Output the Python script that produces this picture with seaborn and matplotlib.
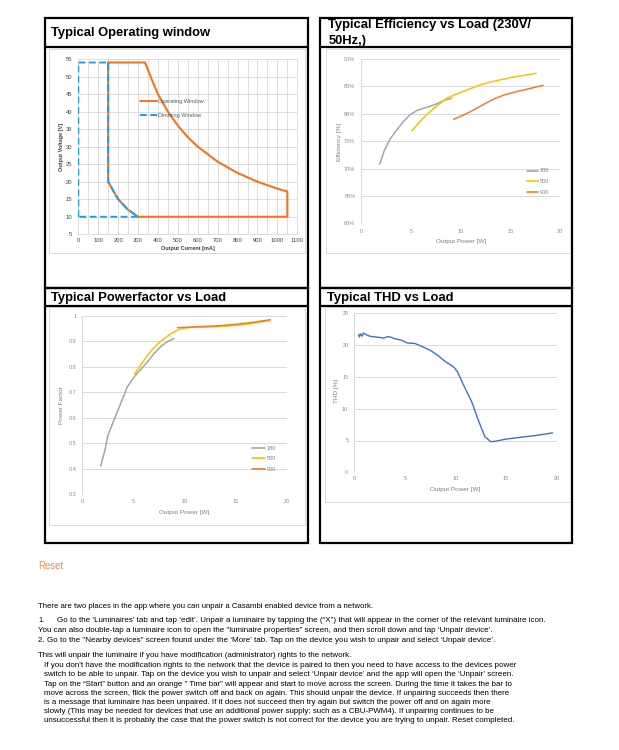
import numpy as np
import pandas as pd
import matplotlib
matplotlib.use("Agg")
import matplotlib.pyplot as plt
from matplotlib.lines import Line2D
from matplotlib.patches import Rectangle
import seaborn as sns

# ---------------- data ----------------
op_current = [150, 335, 370, 400, 450, 500, 550, 600, 700, 800, 900, 1000, 1050, 1050, 300, 250, 200, 150, 150]
op_voltage = [54, 54, 49, 45, 40, 36, 32.7, 30, 25.7, 22.5, 20, 18, 17.2, 10, 10, 12, 15, 20, 54]
dim_current = [0, 0, 150, 150, 200, 250, 300, 0]
dim_voltage = [10, 54, 54, 20, 15, 12, 10, 10]
op_xticks = list(range(0, 1101, 100))
op_yticks = list(range(5, 56, 5))

eff_180_p = [1.85, 2.3, 2.9, 3.5, 4.2, 4.9, 5.6, 6.6, 7.3, 7.8, 8.4, 9.1]
eff_180 = [70.8, 73.2, 75.4, 76.9, 78.5, 79.8, 80.6, 81.2, 81.6, 82.0, 82.5, 82.8]
eff_500_p = [5.1, 5.9, 6.6, 7.3, 8.0, 8.6, 9.3, 10.0, 11.0, 12.0, 13.0, 14.0, 15.0, 16.0, 17.6]
eff_500 = [76.9, 78.6, 79.9, 81.0, 82.0, 82.8, 83.4, 83.9, 84.6, 85.3, 85.8, 86.2, 86.6, 86.9, 87.4]
eff_900_p = [9.3, 10.2, 11.0, 12.0, 12.8, 13.6, 14.5, 15.5, 16.5, 17.4, 18.3]
eff_900 = [79.0, 79.7, 80.4, 81.4, 82.2, 82.9, 83.5, 84.0, 84.4, 84.8, 85.2]
eff_yticks = [60, 65, 70, 75, 80, 85, 90]

pf_180_p = [1.8, 2.2, 2.5, 2.9, 3.4, 3.9, 4.4, 4.9, 5.5, 6.2, 7.0, 7.7, 8.4, 9.0]
pf_180 = [0.41, 0.47, 0.53, 0.57, 0.62, 0.67, 0.72, 0.75, 0.78, 0.81, 0.85, 0.88, 0.90, 0.91]
pf_500_p = [5.1, 5.6, 6.2, 6.8, 7.4, 8.0, 8.7, 9.4, 10.1, 11.0, 12.0, 13.0, 14.0, 15.0, 16.0, 17.2, 18.4]
pf_500 = [0.77, 0.80, 0.835, 0.865, 0.89, 0.91, 0.93, 0.945, 0.952, 0.955, 0.955, 0.957, 0.959, 0.962, 0.966, 0.973, 0.982]
pf_900_p = [9.3, 10.5, 12.0, 13.5, 15.0, 16.5, 18.4]
pf_900 = [0.953, 0.955, 0.958, 0.961, 0.966, 0.973, 0.984]
pf_yticks = [0.3, 0.4, 0.5, 0.6, 0.7, 0.8, 0.9, 1.0]
pf_ytick_labels = ["0.3", "0.4", "0.5", "0.6", "0.7", "0.8", "0.9", "1"]

thd_p = [0.4, 0.5, 0.6, 0.75, 0.9, 1.0, 1.5, 2.0, 2.5, 2.9, 3.3, 3.7, 4.0, 4.6, 5.2, 6.0, 6.8, 7.6,
         8.4, 9.0, 9.8, 10.2, 10.8, 11.6, 12.3, 12.9, 13.5, 14.0, 14.9, 16.4, 18.0, 19.6]
thd = [21.6, 21.3, 21.8, 21.4, 21.9, 21.8, 21.4, 21.3, 21.2, 21.1, 21.35, 21.2, 21.0, 20.8, 20.35, 20.25, 19.7, 19.1,
       18.2, 17.4, 16.6, 15.8, 13.7, 11.1, 8.0, 5.6, 4.8, 4.9, 5.2, 5.5, 5.8, 6.2]
thd_yticks = [0, 5, 10, 15, 20, 25]
power_xticks = [0, 5, 10, 15, 20]

series_labels = ["180", "500", "900"]
series_colors = ["#A5A5A5", "#FFC000", "#ED7D31"]

titles = ["Typical Operating window", "Typical Efficiency vs Load (230V/", "50Hz,)",
          "Typical Powerfactor vs Load", "Typical THD vs Load"]

para_lines = [
    "There are two places in the app where you can unpair a Casambi enabled device from a network.",
    "Go to the \u2018Luminaires\u2019 tab and tap \u2018edit\u2019. Unpair a luminaire by tapping the (\u201cX\u201d) that will appear in the corner of the relevant luminaire icon.",
    "You can also double-tap a luminaire icon to open the \"luminaire properties\" screen, and then scroll down and tap \u2018Unpair device\u2019.",
    "2. Go to the \"Nearby devices\" screen found under the \u2018More\u2019 tab. Tap on the device you wish to unpair and select \u2018Unpair device\u2019.",
    "This will unpair the luminaire if you have modification (administrator) rights to the network.",
    "If you don't have the modification rights to the network that the device is paired to then you need to have access to the devices power",
    "switch to be able to unpair. Tap on the device you wish to unpair and select \u2018Unpair device\u2019 and the app will open the \u2018Unpair\u2019 screen.",
    "Tap on the \u201cStart\u201d button and an orange \" Time bar\" will appear and start to move across the screen. During the time it takes the bar to",
    "move across the screen, flick the power switch off and back on again. This should unpair the device. If unpairing succeeds then there",
    "is a message that luminaire has been unpaired. If it does not succeed then try again but switch the power off and on again more",
    "slowly (This may be needed for devices that use an additional power supply; such as a CBU-PWM4). If unpairing continues to be",
    "unsuccessful then it is probably the case that the power switch is not correct for the device you are trying to unpair. Reset completed.",
]

# ---------------- figure ----------------
W, H = 619, 750
sns.set_theme(style="white")
plt.rcParams['font.family'] = ['Liberation Sans', 'DejaVu Sans']

fig = plt.figure(figsize=(W / 100, H / 100), dpi=100)
fig.patch.set_facecolor("white")


def rect_px(x0, y0, x1, y1):
    return [x0 / W, 1 - y1 / H, (x1 - x0) / W, (y1 - y0) / H]


bg = fig.add_axes([0, 0, 1, 1])
bg.set_xlim(0, W)
bg.set_ylim(H, 0)
bg.axis("off")

GRID = "#D9D9D9"
# outer black boxes + title separators
for x0, x1 in [(45, 308), (320, 572)]:
    for y0, y1, ty in [(17.5, 288, 47), (288, 543, 305.7)]:
        bg.add_patch(Rectangle((x0, y0), x1 - x0, y1 - y0, fill=False, ec="black", lw=1.6))
        bg.plot([x0, x1], [ty, ty], color="black", lw=1.6)
# light chart frames
for fx0, fy0, fx1, fy1 in [(49, 49, 305, 253), (326, 49, 570, 253), (49, 307, 305, 525), (325, 307, 570, 502)]:
    bg.add_patch(Rectangle((fx0, fy0), fx1 - fx0, fy1 - fy0, fill=False, ec=GRID, lw=0.7))


def style_axes(ax, xlim, ylim, xticks, yticks, ylabels, tick_color, fs, xpad, ypad, left_spine):
    ax.set_facecolor("none")
    ax.set_xlim(*xlim)
    ax.set_ylim(*ylim)
    ax.set_xticks(xticks)
    ax.set_yticks(yticks)
    ax.set_xticklabels([str(t) for t in xticks])
    ax.set_yticklabels(ylabels)
    ax.tick_params(axis="x", length=0, pad=xpad, labelsize=fs, labelcolor=tick_color)
    ax.tick_params(axis="y", length=0, pad=ypad, labelsize=fs, labelcolor=tick_color)
    for s in ["top", "right", "bottom"]:
        ax.spines[s].set_visible(False)
    if left_spine:
        ax.spines["left"].set_visible(True)
        ax.spines["left"].set_color(GRID)
        ax.spines["left"].set_linewidth(0.7)
    else:
        ax.spines["left"].set_visible(False)
    ax.set_xlabel("")
    ax.set_ylabel("")
    ax.set_axisbelow(True)


# ---- chart 1: operating window ----
ax1 = fig.add_axes(rect_px(78.3, 59, 297.3, 234.3))
sns.lineplot(x=op_current, y=op_voltage, sort=False, estimator=None, color="#F5731F", lw=1.5, ax=ax1, zorder=3)
sns.lineplot(x=dim_current, y=dim_voltage, sort=False, estimator=None, color="#1E9FE3", lw=1.4,
             linestyle=(0, (3.5, 1.8)), ax=ax1, zorder=4)
style_axes(ax1, (0, 1100), (5, 55), op_xticks, op_yticks, [str(t) for t in op_yticks],
           "#404040", 4.2, 2.6, 4.3, False)
ax1.set_xticks(list(range(50, 1100, 100)), minor=True)
ax1.tick_params(which="minor", length=0)
ax1.grid(True, which="both", color=GRID, lw=0.6)
for ln in ax1.get_xgridlines() + ax1.get_ygridlines():
    ln.set_clip_on(False)
ax1.legend(handles=[Line2D([], [], color="#F5731F", lw=1.4),
                    Line2D([], [], color="#1E9FE3", lw=1.4, linestyle=(0, (3.5, 1.8)))],
           labels=["Operating Window", "Dimming Window"],
           loc="upper left", bbox_to_anchor=(140 / W, 1 - 98.5 / H), bbox_transform=fig.transFigure,
           frameon=False, fontsize=4.0, handlelength=3.1, handletextpad=0.15, labelspacing=1.75,
           borderpad=0, borderaxespad=0, labelcolor="#595959")
bg.text(188, 248.3, "Output Current [mA]", fontsize=4.0, fontweight="bold", color="#404040", ha="center", va="center")
bg.text(61, 146.7, "Output Voltage [V]", fontsize=4.0, fontweight="bold", color="#404040", ha="center", va="center",
        rotation=90)

# ---- chart 2: efficiency ----
eff_df = pd.DataFrame({
    "power": eff_180_p + eff_500_p + eff_900_p,
    "eff": eff_180 + eff_500 + eff_900,
    "series": ["180"] * len(eff_180_p) + ["500"] * len(eff_500_p) + ["900"] * len(eff_900_p),
})
ax2 = fig.add_axes(rect_px(361.3, 59, 560, 223.3))
sns.lineplot(data=eff_df, x="power", y="eff", hue="series", hue_order=series_labels, palette=series_colors,
             sort=False, estimator=None, lw=1.1, legend=False, ax=ax2)
style_axes(ax2, (0, 20), (60, 90), power_xticks, eff_yticks, [f"{t}%" for t in eff_yticks],
           "#8C8C8C", 4.0, 4.0, 4.3, True)
ax2.grid(True, axis="y", color=GRID, lw=0.7)
ax2.legend(handles=[Line2D([], [], color=c, lw=1.2) for c in series_colors], labels=series_labels,
           loc="upper left", bbox_to_anchor=(527 / W, 1 - 168.5 / H), bbox_transform=fig.transFigure,
           frameon=False, fontsize=4.0, handlelength=2.0, handletextpad=0.3, labelspacing=1.0,
           borderpad=0, borderaxespad=0, labelcolor="#7F7F7F")
bg.text(460.7, 241.7, "Output Power [W]", fontsize=4.6, color="#7F7F7F", ha="center", va="center")
bg.text(339.3, 141.7, "Efficiency [%]", fontsize=4.6, color="#7F7F7F", ha="center", va="center", rotation=90)

# ---- chart 3: power factor ----
pf_df = pd.DataFrame({
    "power": pf_180_p + pf_500_p + pf_900_p,
    "pf": pf_180 + pf_500 + pf_900,
    "series": ["180"] * len(pf_180_p) + ["500"] * len(pf_500_p) + ["900"] * len(pf_900_p),
})
ax3 = fig.add_axes(rect_px(82.3, 315.7, 286.7, 494))
sns.lineplot(data=pf_df, x="power", y="pf", hue="series", hue_order=series_labels, palette=series_colors,
             sort=False, estimator=None, lw=1.1, legend=False, ax=ax3)
style_axes(ax3, (0, 20), (0.3, 1.0), power_xticks, pf_yticks, pf_ytick_labels,
           "#8C8C8C", 4.0, 3.6, 4.0, True)
ax3.grid(True, axis="y", color=GRID, lw=0.7)
ax3.legend(handles=[Line2D([], [], color=c, lw=1.2) for c in series_colors], labels=series_labels,
           loc="upper left", bbox_to_anchor=(252 / W, 1 - 445.5 / H), bbox_transform=fig.transFigure,
           frameon=False, fontsize=4.0, handlelength=2.3, handletextpad=0.3, labelspacing=1.0,
           borderpad=0, borderaxespad=0, labelcolor="#7F7F7F")
bg.text(184.3, 512.7, "Output Power [W]", fontsize=4.6, color="#7F7F7F", ha="center", va="center")
bg.text(61.7, 405, "Power Factor", fontsize=4.6, color="#7F7F7F", ha="center", va="center", rotation=90)

# ---- chart 4: THD ----
ax4 = fig.add_axes(rect_px(354.3, 313.3, 556.7, 472.3))
sns.lineplot(x=thd_p, y=thd, sort=False, estimator=None, color="#4472C4", lw=1.0, ax=ax4)
style_axes(ax4, (0, 20), (0, 25), power_xticks, thd_yticks, [str(t) for t in thd_yticks],
           "#8C8C8C", 4.0, 2.9, 4.3, True)
ax4.grid(True, axis="y", color=GRID, lw=0.7)
bg.text(455, 489, "Output Power [W]", fontsize=4.6, color="#7F7F7F", ha="center", va="center")
bg.text(336.7, 391, "THD [%]", fontsize=4.6, color="#7F7F7F", ha="center", va="center", rotation=90)

# ---------------- texts ----------------
fig.canvas.draw()
renderer = fig.canvas.get_renderer()


def fit(t, target_w):
    bb = t.get_window_extent(renderer=renderer)
    if bb.width > 0:
        t.set_fontsize(t.get_fontsize() * target_w / bb.width)


title_specs = [(51, 33.3, 160), (328.3, 25, 205), (328.3, 41, 38), (51, 297.5, 175.7), (326.7, 297.5, 126.7)]
for s, (x, y, w) in zip(titles, title_specs):
    t = bg.text(x, y, s, fontsize=9.5, fontweight="bold", color="black", ha="left", va="center")
    fit(t, w)

bg.text(38.3, 566, "Reset", fontsize=6.9, color="#F7894A", ha="left", va="center")

para_specs = [(38.3, 606.7, 332), (56.7, 620.7, 485), (38.3, 631, 452), (38.3, 640.5, 453.7),
              (38.3, 655.7, 313.7), (44, 665.7, 467.7), (44, 674.7, 466), (44, 684.3, 467.7),
              (44, 693.3, 466), (44, 702.3, 443), (44, 711.7, 452), (44, 721, 467.7)]
bg.text(38.3, 620.7, "1.", fontsize=5.2, color="black", ha="left", va="center")
for s, (x, y, w) in zip(para_lines, para_specs):
    t = bg.text(x, y, s, fontsize=5.2, color="black", ha="left", va="center")
    fit(t, w)

fig.savefig("out.png", dpi=100, facecolor="white")
